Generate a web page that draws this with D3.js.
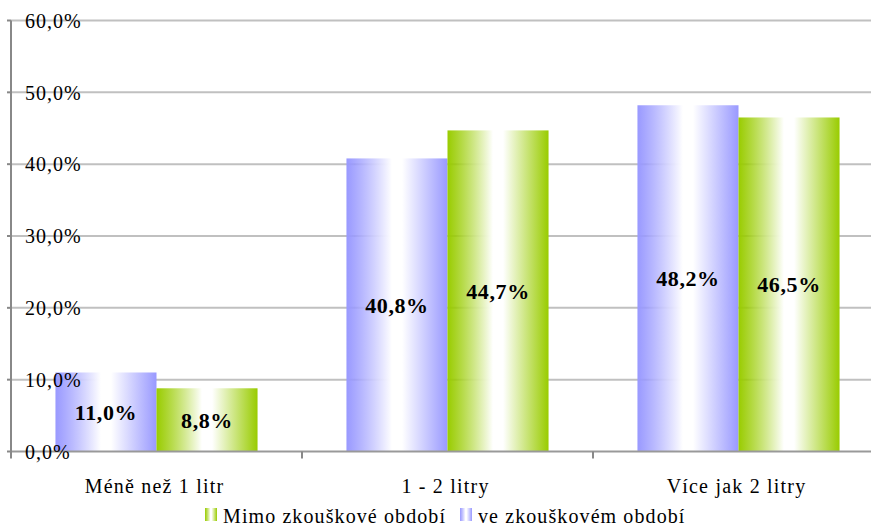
<!DOCTYPE html>
<html>
<head>
<meta charset="utf-8">
<script src="https://cdn.jsdelivr.net/npm/d3@7"></script>
<style>
  body { margin: 0; background: #fff; }
  svg { display: block; }
</style>
</head>
<body>
<svg id="chart" width="871" height="528"></svg>
<script>
// Daily drinking volume by period
const categories = ["Méně než 1 litr", "1 - 2 litry", "Více jak 2 litry"];
const seriesNames = ["ve zkouškovém období", "Mimo zkouškové období"];
const exam = [11.0, 40.8, 48.2];      // ve zkouškovém období
const nonExam = [8.8, 44.7, 46.5];    // Mimo zkouškové období
const yTicks = [0, 10, 20, 30, 40, 50, 60];

const FONT = '"Liberation Serif"';
const svg = d3.select("#chart");
const W = 871, H = 528;
const m = { left: 11, top: 20.5, bottom: 451.5 };
const plotRight = 884;

const fmt = v => v.toFixed(1).replace(".", ",") + "%";

// gradients: saturated edges, white centre
const defs = svg.append("defs");
function grad(id, c) {
  const g = defs.append("linearGradient").attr("id", id)
    .attr("x1", "0%").attr("x2", "100%").attr("y1", "0%").attr("y2", "0%");
  g.append("stop").attr("offset", "0%").attr("stop-color", c);
  g.append("stop").attr("offset", "8%").attr("stop-color", c).attr("stop-opacity", 0.85);
  g.append("stop").attr("offset", "45%").attr("stop-color", "#ffffff");
  g.append("stop").attr("offset", "55%").attr("stop-color", "#ffffff");
  g.append("stop").attr("offset", "100%").attr("stop-color", c);
}
grad("gBlue", "#9999ff");
grad("gGreen", "#99cc00");

const y = d3.scaleLinear().domain([0, 60]).range([m.bottom, m.top]);
const x0 = d3.scaleBand().domain(categories).range([m.left, plotRight]).paddingInner(0).paddingOuter(0);
const x1 = d3.scaleBand().domain(seriesNames).range([0, x0.bandwidth()]).paddingInner(0).paddingOuter(0.44);

// grid lines
svg.append("g").selectAll("line").data(yTicks.slice(1)).join("line")
  .attr("x1", m.left).attr("x2", W)
  .attr("y1", d => y(d)).attr("y2", d => y(d))
  .attr("stroke", "#c0c0c0").attr("stroke-width", 2);

// bars
const rows = categories.map((c, i) => ({ c, vals: [
  { s: seriesNames[0], v: exam[i], fill: "url(#gBlue)" },
  { s: seriesNames[1], v: nonExam[i], fill: "url(#gGreen)" }
]}));

const grp = svg.append("g").selectAll("g").data(rows).join("g")
  .attr("transform", d => `translate(${x0(d.c)},0)`);

grp.selectAll("rect").data(d => d.vals).join("rect")
  .attr("x", d => x1(d.s))
  .attr("width", x1.bandwidth())
  .attr("y", d => y(d.v))
  .attr("height", d => y(0) - y(d.v))
  .attr("fill", d => d.fill);

// value labels in the middle of each bar
grp.selectAll("text").data(d => d.vals).join("text")
  .attr("x", d => x1(d.s) + x1.bandwidth() / 2)
  .attr("y", d => (y(0) + y(d.v)) / 2)
  .attr("dy", "0.35em")
  .attr("text-anchor", "middle")
  .style("font-family", FONT).style("font-size", "22px").style("font-weight", "bold")
  .style("letter-spacing", "0.6px")
  .text(d => fmt(d.v));

// baseline and category ticks
svg.append("line").attr("x1", m.left).attr("x2", W)
  .attr("y1", y(0)).attr("y2", y(0))
  .attr("stroke", "#999999").attr("stroke-width", 2);
svg.append("g").selectAll("line").data(categories.slice(1)).join("line")
  .attr("x1", d => x0(d)).attr("x2", d => x0(d))
  .attr("y1", y(0)).attr("y2", y(0) + 7)
  .attr("stroke", "#888888").attr("stroke-width", 2);

// y axis
svg.append("line").attr("x1", m.left).attr("x2", m.left)
  .attr("y1", y(60)).attr("y2", y(0) + 7)
  .attr("stroke", "#888888").attr("stroke-width", 2);
svg.append("g").selectAll("line").data(yTicks).join("line")
  .attr("x1", m.left - 4).attr("x2", m.left)
  .attr("y1", d => y(d)).attr("y2", d => y(d))
  .attr("stroke", "#888888").attr("stroke-width", 2);
svg.append("g").selectAll("text").data(yTicks).join("text")
  .attr("x", 25).attr("y", d => y(d)).attr("dy", "0.36em")
  .style("font-family", FONT).style("font-size", "20px").style("letter-spacing", "1px")
  .text(d => fmt(d));

// category labels
svg.append("g").selectAll("text").data(categories).join("text")
  .attr("x", d => x0(d) + x0.bandwidth() / 2 - 2)
  .attr("y", 493)
  .attr("text-anchor", "middle")
  .style("font-family", FONT).style("font-size", "20px").style("letter-spacing", "1.2px")
  .text(d => d);

// legend
const legend = [
  { name: seriesNames[1], fill: "url(#gGreen)", x: 205 },
  { name: seriesNames[0], fill: "url(#gBlue)", x: 460 }
];
const lg = svg.append("g").selectAll("g").data(legend).join("g")
  .attr("transform", d => `translate(${d.x},0)`);
lg.append("rect").attr("x", 0).attr("y", 508).attr("width", 12).attr("height", 13)
  .attr("fill", d => d.fill);
lg.append("text").attr("x", 18).attr("y", 523)
  .style("font-family", FONT).style("font-size", "20px").style("letter-spacing", "1.1px")
  .text(d => d.name);
</script>
</body>
</html>
